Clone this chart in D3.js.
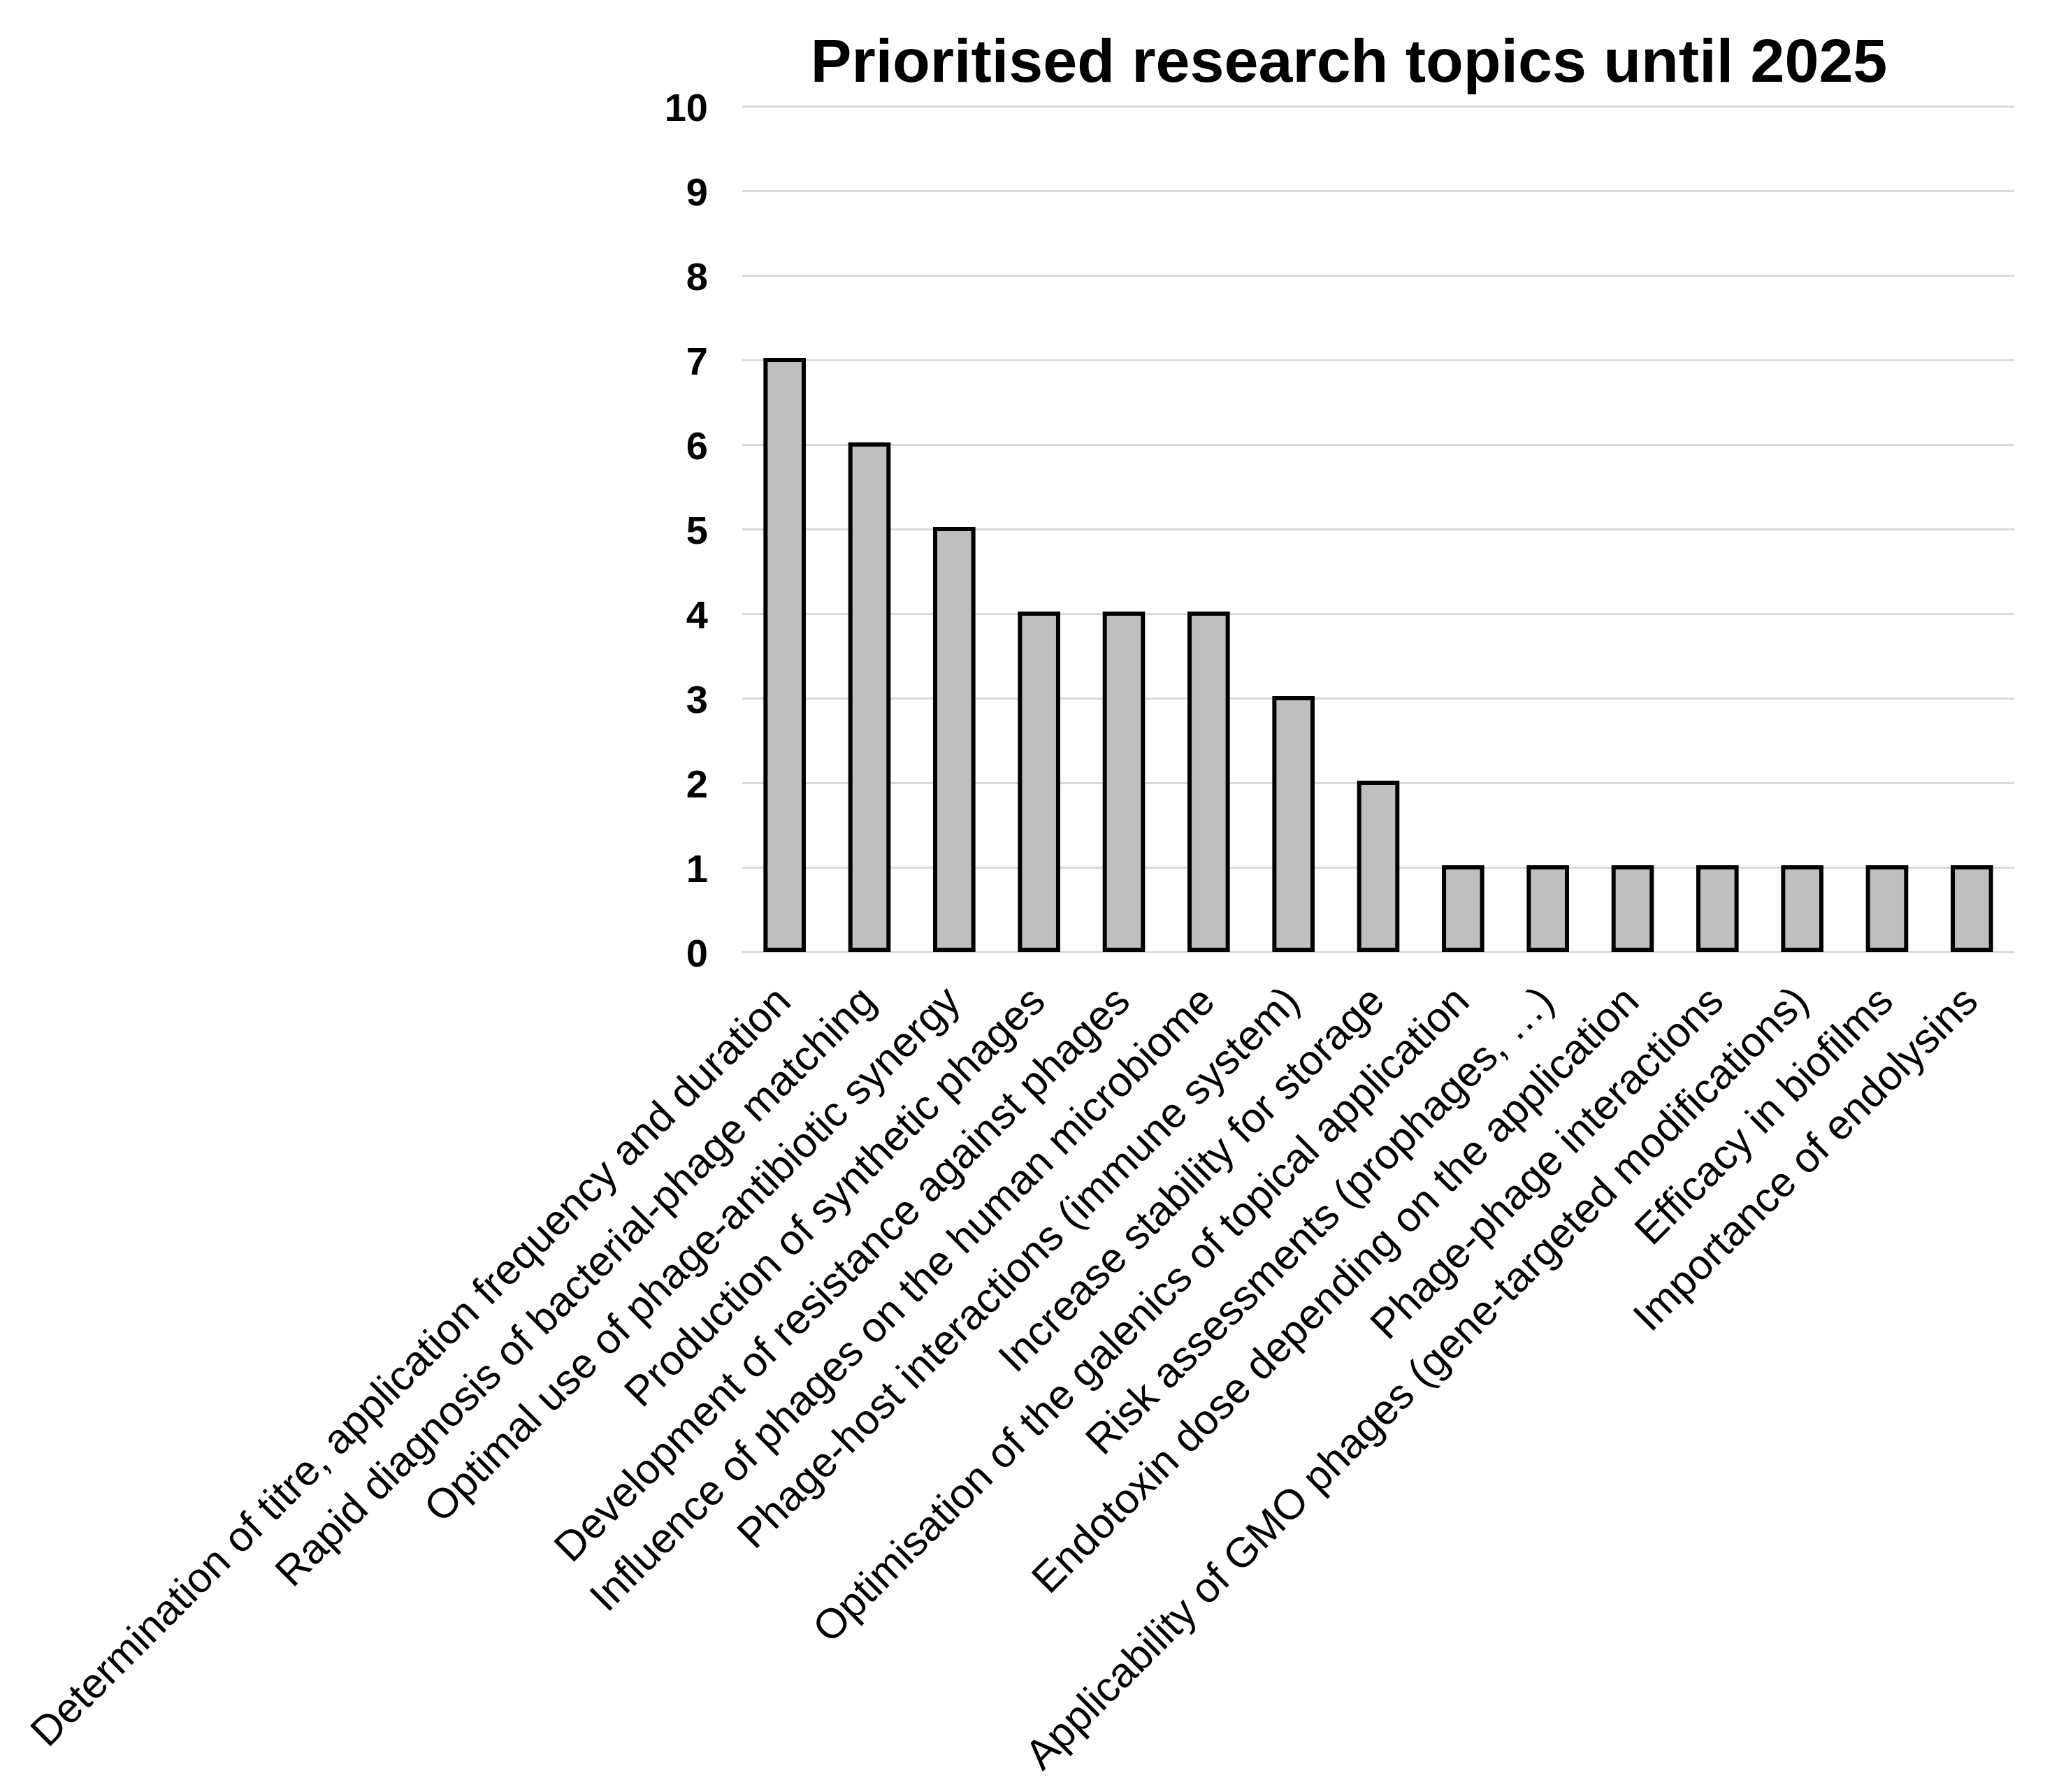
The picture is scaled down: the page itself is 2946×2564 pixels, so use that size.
<!DOCTYPE html>
<html>
<head>
<meta charset="utf-8">
<script src="https://cdn.jsdelivr.net/npm/d3@7"></script>
<style>
  body { margin: 0; background: #fff; }
  text { font-family: "Liberation Sans", Arial, sans-serif; }
</style>
</head>
<body>
<div class="canvas"></div>
<script>
// data
var topics = [
    "Determination of titre, application frequency and duration",
    "Rapid diagnosis of bacterial-phage matching",
    "Optimal use of phage-antibiotic synergy",
    "Production of synthetic phages",
    "Development of resistance against phages",
    "Influence of phages on the human microbiome",
    "Phage-host interactions (immune system)",
    "Increase stability for storage",
    "Optimisation of the galenics of topical application",
    "Risk assessments (prophages, \u2026)",
    "Endotoxin dose depending on the application",
    "Phage-phage interactions",
    "Applicability of GMO phages (gene-targeted modifications)",
    "Efficacy in biofilms",
    "Importance of endolysins"
];
var votes = [7, 6, 5, 4, 4, 4, 3, 2, 1, 1, 1, 1, 1, 1, 1];
var yTicks = [0, 1, 2, 3, 4, 5, 6, 7, 8, 9, 10];

var dims = { width: 2946, height: 2564 };
var plot = { left: 1062, right: 2882, top: 152, bottom: 1362 };

var svg = d3.select(".canvas").append("svg")
    .attr("width", dims.width)
    .attr("height", dims.height)
    .style("background", "#fff");

var x = d3.scaleBand()
    .domain(topics)
    .range([plot.left, plot.right])
    .paddingInner(0.55)
    .paddingOuter(0.275);

var y = d3.scaleLinear()
    .domain([0, 10])
    .range([plot.bottom, plot.top]);

// gridlines
var grid = svg.append("g")
    .attr("transform", "translate(" + plot.left + ",0)")
    .call(d3.axisLeft(y).tickValues(yTicks).tickSize(-(plot.right - plot.left)).tickFormat(""));
grid.select(".domain").remove();
grid.selectAll("line").attr("stroke", "#d9d9d9").attr("stroke-width", 3);

// y labels
var yAxis = svg.append("g")
    .attr("transform", "translate(1013,0)")
    .call(d3.axisLeft(y).tickValues(yTicks).tickSize(0).tickPadding(0));
yAxis.select(".domain").remove();
yAxis.selectAll("text")
    .attr("font-family", "'Liberation Sans', Arial, sans-serif")
    .attr("font-size", "56px")
    .attr("font-weight", "bold")
    .attr("fill", "#000")
    .attr("dy", "0.36em");

// bars
svg.append("g").selectAll("rect")
    .data(votes)
    .join("rect")
    .attr("x", (d, i) => x(topics[i]))
    .attr("y", d => y(d))
    .attr("width", x.bandwidth())
    .attr("height", d => y(0) - y(d) - 3)
    .attr("fill", "#bfbfbf")
    .attr("stroke", "#000")
    .attr("stroke-width", 6);

// category labels
var xAxis = svg.append("g")
    .attr("transform", "translate(0," + plot.bottom + ")")
    .call(d3.axisBottom(x).tickSize(0).tickPadding(0));
xAxis.select(".domain").remove();
xAxis.selectAll("text")
    .attr("font-family", "'Liberation Sans', Arial, sans-serif")
    .attr("font-size", "60px")
    .attr("fill", "#000")
    .attr("text-anchor", "end")
    .attr("y", 0)
    .attr("dy", 0)
    .attr("transform", "translate(12,74) rotate(-45)");

// title
svg.append("text")
    .attr("x", 1930)
    .attr("y", 117)
    .attr("text-anchor", "middle")
    .attr("font-size", "88px")
    .attr("font-weight", "bold")
    .attr("fill", "#000")
    .text("Prioritised research topics until 2025");
</script>
</body>
</html>
